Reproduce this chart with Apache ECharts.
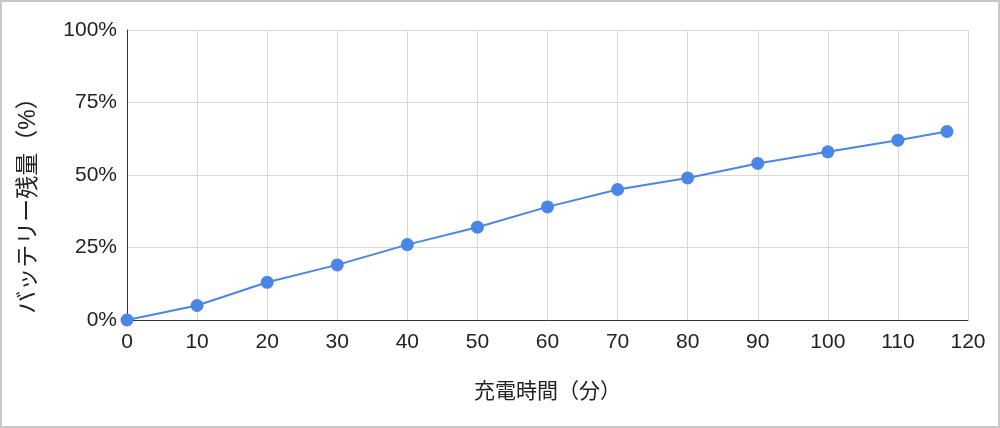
<!DOCTYPE html>
<html>
<head>
<meta charset="utf-8">
<script src="https://cdn.jsdelivr.net/npm/echarts@6/dist/echarts.min.js"></script>
<style>
html, body { margin: 0; padding: 0; background: #fff; }
#chart { width: 1000px; height: 428px; box-sizing: border-box; border: 2px solid #c8c8c8; }
</style>
</head>
<body>
<div id="chart"></div>
<script>
// 充電時間（分）とバッテリー残量（%）
var minutes = [0, 10, 20, 30, 40, 50, 60, 70, 80, 90, 100, 110, 117];
var battery = [0, 5, 13, 19, 26, 32, 39, 45, 49, 54, 58, 62, 65];

var chart = echarts.init(document.getElementById('chart'));
var font = '"Liberation Sans", Arial, "Noto Sans CJK JP", sans-serif';

var option = {
    animation: false,
    grid: {
        left: 125,
        right: 30,
        top: 28,
        bottom: 106
    },
    xAxis: {
        type: 'value',
        min: 0,
        max: 120,
        interval: 10,
        name: '充電時間（分）',
        nameLocation: 'middle',
        nameGap: 62,
        nameTextStyle: { fontFamily: font, fontSize: 21, color: '#222' },
        axisLine: { show: true, lineStyle: { color: '#333', width: 1 } },
        axisTick: { show: false },
        axisLabel: { fontFamily: font, fontSize: 21, color: '#222', margin: 12 },
        splitLine: { show: true, lineStyle: { color: '#d9d9d9', width: 1 } }
    },
    yAxis: {
        type: 'value',
        min: 0,
        max: 100,
        interval: 25,
        name: 'バッテリー残量（%）',
        nameLocation: 'middle',
        nameGap: 87,
        nameRotate: 90,
        nameTextStyle: { fontFamily: font, fontSize: 23, color: '#222', padding: [0, 50, 0, 0] },
        axisLine: { show: true, lineStyle: { color: '#333', width: 1 } },
        axisTick: { show: false },
        axisLabel: {
            fontFamily: font, fontSize: 21, color: '#222', margin: 10,
            formatter: function (v) { return v + '%'; }
        },
        splitLine: { show: true, lineStyle: { color: '#d9d9d9', width: 1 } }
    },
    series: [{
        type: 'line',
        data: minutes.map(function (m, i) { return [m, battery[i]]; }),
        symbol: 'circle',
        symbolSize: 13,
        itemStyle: { color: '#4a86e8' },
        lineStyle: { color: '#4a86e8', width: 2 }
    }]
};
chart.setOption(option);
</script>
</body>
</html>
